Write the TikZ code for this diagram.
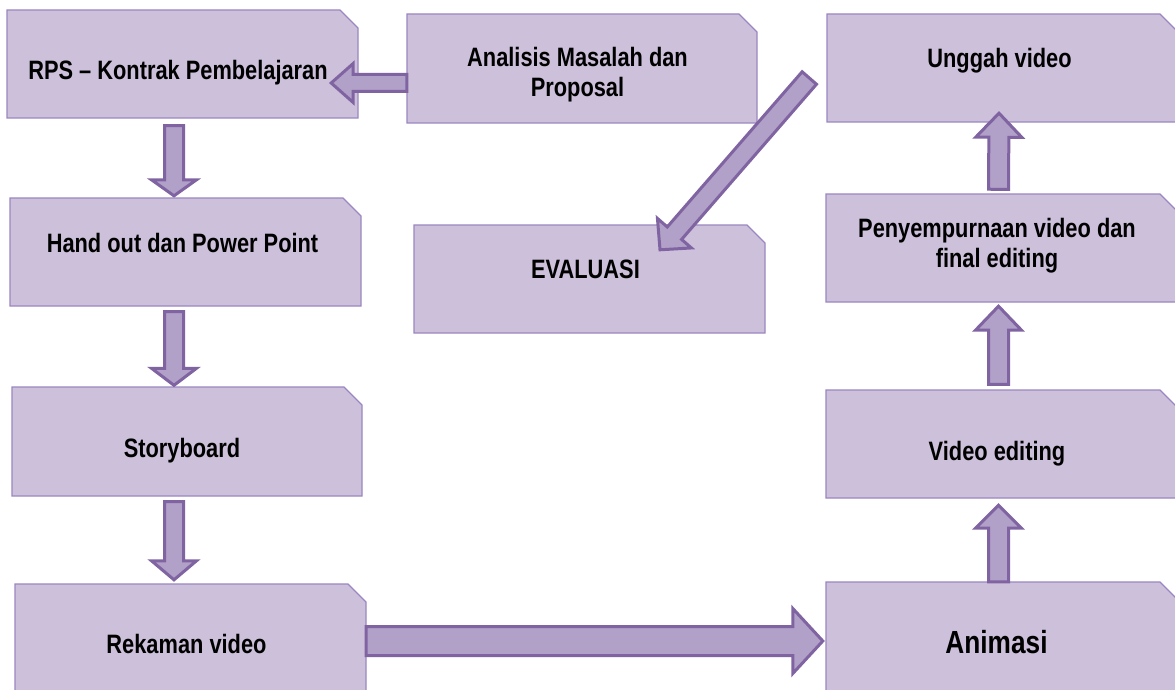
\documentclass[tikz,border=0pt]{standalone}
\usepackage{fontspec}
\setmainfont{Liberation Sans}[FakeStretch=0.82]
\usetikzlibrary{calc,fit}
\definecolor{boxfill}{HTML}{CCC0DA}
\definecolor{boxline}{HTML}{9B86C1}
\definecolor{arrowfill}{HTML}{B1A0C7}
\definecolor{arrowline}{HTML}{8064A2}
\tikzset{
  boxshape/.style={fill=boxfill, draw=boxline, line width=1.2pt, line join=miter},
  boxnode/.style={inner sep=0pt, draw=none},
  lbl/.style={font=\bfseries\fontsize{26.6}{30}\selectfont, align=center, inner sep=0pt, text=black},
  bigl/.style={font=\bfseries\fontsize{32}{36}\selectfont, inner sep=0pt, text=black},
  blockline/.style={draw=arrowline, fill=arrowfill, line width=3pt, line join=miter, miter limit=10},
}
\newcommand\snipbox[5]{%
  \draw[boxshape] (#2,#5) -- (#2,#3) -- ({#4-18},#3) -- (#4,{#3+18}) -- (#4,#5) -- cycle;
  \node[boxnode, fit={(#2,#3) (#4,#5)}] (#1) {};
}
\newcommand\blockarrow[5]{%
  \coordinate (ba-s) at (#1);
  \coordinate (ba-t) at (#2);
  \coordinate (ba-h) at ($(ba-t)!#5!(ba-s)$);
  \draw[blockline] ($(ba-s)!#3!90:(ba-t)$) -- ($(ba-h)!#3!90:(ba-t)$) -- ($(ba-h)!#4!90:(ba-t)$) -- (ba-t) -- ($(ba-h)!#4!-90:(ba-t)$) -- ($(ba-h)!#3!-90:(ba-t)$) -- ($(ba-s)!#3!-90:(ba-t)$) -- cycle;
}
\begin{document}
\begin{tikzpicture}[x=1pt, y=-1pt]
\useasboundingbox (0,0) rectangle (1175,690);
\clip (0,0) rectangle (1175,690);
\fill[white] (0,0) rectangle (1175,690);
% boxes
\snipbox{rps}{7}{10}{358}{118}
\snipbox{ana}{407}{14}{757}{123}
\snipbox{ung}{827}{14}{1178}{122}
\snipbox{hand}{10}{198}{361}{306}
\snipbox{eva}{414}{225}{765}{333}
\snipbox{pen}{826}{194}{1178}{302}
\snipbox{story}{12}{387}{362}{496}
\snipbox{vid}{826}{390}{1178}{498}
\snipbox{rek}{15}{584}{366}{700}
\snipbox{ani}{826}{582}{1178}{700}
% labels
\node[lbl, anchor=base] (rps-t) at (178,80) {RPS – Kontrak Pembelajaran};
\node[lbl, anchor=base] (ana-t) at (577.5,97) {Analisis Masalah dan\\Proposal};
\node[lbl, anchor=base] (ung-t) at (999.5,68) {Unggah video};
\node[lbl, anchor=base] (hand-t) at (182.5,252) {Hand out dan Power Point};
\node[lbl, anchor=base] (eva-t) at (585.5,278) {EVALUASI};
\node[lbl, anchor=base] (pen-t) at (997,267) {Penyempurnaan video dan\\final editing};
\node[lbl, anchor=base] (story-t) at (182,457) {Storyboard};
\node[lbl, anchor=base] (vid-t) at (997,460) {Video editing};
\node[lbl, anchor=base] (rek-t) at (186.5,653) {Rekaman video};
\node[bigl, anchor=base] (ani-t) at (996.5,653) {Animasi};
% arrows
\blockarrow{[yshift=-14.5pt]ana.west}{[xshift=-27pt,yshift=-19pt]rps.east}{8.5pt}{19.5pt}{22pt}
\blockarrow{[xshift=-8.5pt,yshift=-7.5pt]rps.south}{[xshift=-11.5pt,yshift=2pt]hand.north}{9.5pt}{22.5pt}{16pt}
\blockarrow{[xshift=-11.5pt,yshift=-5.5pt]hand.south}{[xshift=-13pt,yshift=1.5pt]story.north}{9.5pt}{22.5pt}{17pt}
\blockarrow{[xshift=-13pt,yshift=-5.5pt]story.south}{[xshift=-16.5pt,yshift=4pt]rek.north}{9.5pt}{22.5pt}{19pt}
\blockarrow{[yshift=1pt]rek.east}{[xshift=-3pt]ani.west}{14.5pt}{32.5pt}{30pt}
\blockarrow{[xshift=-3.5pt]ani.north}{[xshift=-3.5pt,yshift=-7pt]vid.south}{10pt}{23pt}{23pt}
\blockarrow{[xshift=-3.5pt,yshift=5.5pt]vid.north}{[xshift=-3.5pt,yshift=-4pt]pen.south}{10pt}{23pt}{24pt}
\blockarrow{[xshift=-3.5pt,yshift=4.5pt]pen.north}{[xshift=-3.5pt,yshift=9pt]ung.south}{10pt}{23pt}{24pt}
\blockarrow{[xshift=-17.5pt,yshift=-10pt]ung.west}{[xshift=70.5pt,yshift=-25pt]eva.north}{9.5pt}{22.5pt}{22pt}
\end{tikzpicture}
\end{document}
